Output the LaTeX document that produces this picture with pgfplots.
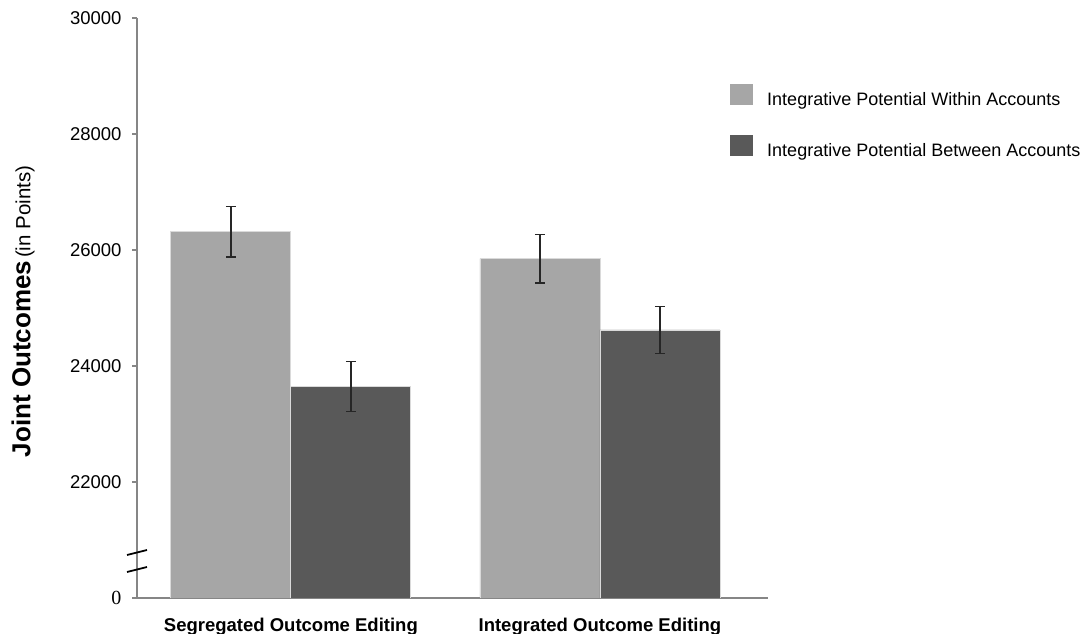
\documentclass[border=0pt]{standalone}
\usepackage{fontspec}
\setmainfont{Liberation Sans}
\newfontfamily\timesfont{Liberation Serif}
\usepackage{pgfplots}
\pgfplotsset{compat=1.18}

\definecolor{barlight}{HTML}{A6A6A6}
\definecolor{bardark}{HTML}{595959}
\definecolor{axisgray}{HTML}{868686}
\definecolor{baredge}{HTML}{DADADA}
\definecolor{errcol}{HTML}{262626}

\begin{document}
\begin{tikzpicture}[x=1bp,y=1bp]
\useasboundingbox (0,0) rectangle (1090,634);
\begin{axis}[
  at={(137bp,36bp)}, anchor=south west,
  scale only axis, width=631bp, height=580bp,
  xmin=-0.498, xmax=1.544, ymin=20000, ymax=30000,
  axis x line=bottom, axis y line=left,
  axis line style={-, draw=axisgray, line width=1.6bp},
  ybar=0pt, bar width=120bp,
  xtick={0,1},
  xticklabels={Segregated Outcome Editing, Integrated Outcome Editing},
  xtick style={draw=none},
  xticklabel style={font=\fontsize{18.5bp}{21bp}\selectfont\bfseries, anchor=base, yshift=-29bp},
  scaled y ticks=false,
  ytick={20000,22000,24000,26000,28000,30000},
  yticklabels={\mbox{\fontsize{20bp}{22bp}\selectfont\timesfont 0}, 22000, 24000, 26000, 28000, 30000},
  tick align=outside, major tick length=5bp,
  ytick style={draw=axisgray, line width=1.6bp},
  yticklabel style={font=\fontsize{18.5bp}{21bp}\selectfont, anchor=east, xshift=-7bp},
  ylabel={{\fontsize{26bp}{30bp}\selectfont\bfseries Joint Outcomes} {\fontsize{20.5bp}{24bp}\selectfont(in Points)}},
  ylabel style={at={(axis description cs:-0.1807,0.494)}, anchor=center},
  legend style={at={(axis description cs:0.9398,0.886)}, anchor=north west,
    draw=none, fill=none, inner sep=0pt, row sep=25bp, column sep=14bp,
    font=\fontsize{18bp}{21bp}\selectfont,
    nodes={inner sep=0pt, text height=13bp, text depth=4bp}},
  legend cell align=left,
  legend image code/.code={\fill[#1, draw=none] (0bp,-4bp) rectangle (23bp,17bp);},
  every axis plot/.append style={draw=baredge, line width=0.8bp},
]
% within-account integrative potential
\addplot[fill=barlight,
  error bars/.cd, y dir=both, y explicit,
  error bar style={draw=errcol, line width=1.3bp},
  error mark options={rotate=90, draw=errcol, line width=1.3bp, mark size=5bp}]
  coordinates {(0,26315) +- (0,436) (1,25850) +- (0,420)};
% between-account integrative potential
\addplot[fill=bardark,
  error bars/.cd, y dir=both, y explicit,
  error bar style={draw=errcol, line width=1.3bp},
  error mark options={rotate=90, draw=errcol, line width=1.3bp, mark size=5bp}]
  coordinates {(0,23643) +- (0,431) (1,24621) +- (0,410)};
\legend{Integrative Potential Within Accounts, Integrative Potential Between Accounts}
\end{axis}
% axis break marks
\draw[black, line width=1.8bp] (127,79) -- (147,84);
\draw[black, line width=1.8bp] (127,62) -- (147,67);
\end{tikzpicture}
\end{document}
